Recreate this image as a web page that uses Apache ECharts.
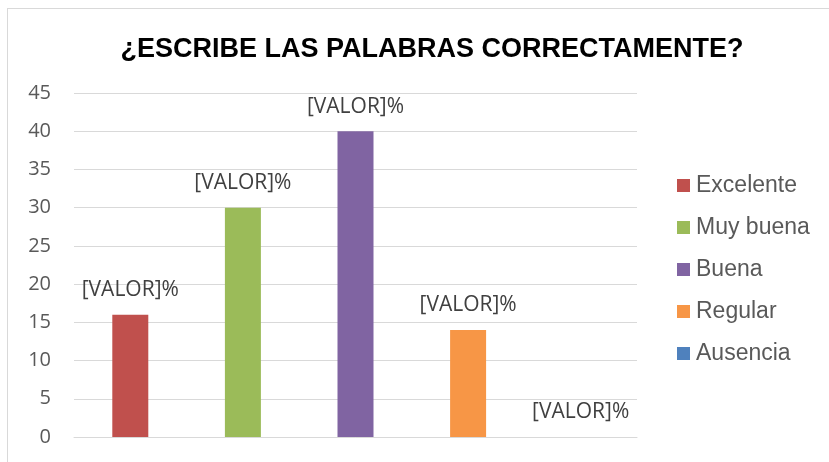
<!DOCTYPE html>
<html>
<head>
<meta charset="utf-8">
<script src="https://cdn.jsdelivr.net/npm/echarts@6/dist/echarts.min.js"></script>
<style>
  html, body { margin: 0; padding: 0; background: #fff; }
  #chart { width: 829px; height: 462px; }
  .frame { position: absolute; left: 7px; top: 8px; width: 840px; height: 470px; border: 1px solid #d9d9d9; box-sizing: border-box; pointer-events: none; }
</style>
</head>
<body>
<div id="chart"></div>
<div class="frame"></div>
<script>
// datos del grafico
var categorias = ['Excelente', 'Muy buena', 'Buena', 'Regular', 'Ausencia'];
var valores = [16, 30, 40, 14, 0];
var colores = ['#c0504d', '#9bbb59', '#8064a2', '#f79646', '#4f81bd'];
var etiquetaValor = '[VALOR]%';

var series = categorias.map(function (nombre, i) {
    // cada categoria es su propia serie, solo tiene dato en su posicion
    var data = categorias.map(function (c, j) { return j === i ? valores[i] : '-'; });
    return {
        name: nombre,
        type: 'bar',
        barWidth: 36,
        barGap: '-100%',
        itemStyle: { color: colores[i] },
        label: {
            show: true,
            position: 'top',
            distance: 14,
            formatter: etiquetaValor,
            fontFamily: 'Open Sans',
            fontSize: 21,
            color: '#404040'
        },
        data: data
    };
});

var myChart = echarts.init(document.getElementById('chart'));
myChart.setOption({
    animation: false,
    title: {
        text: '¿ESCRIBE LAS PALABRAS CORRECTAMENTE?',
        left: 427,
        textAlign: 'center',
        top: 31,
        textStyle: { fontFamily: 'Liberation Sans', fontWeight: 'bold', fontSize: 27, color: '#000' }
    },
    legend: {
        orient: 'vertical',
        left: 672,
        top: 169,
        itemWidth: 13,
        itemHeight: 13,
        itemGap: 19,
        icon: 'rect',
        textStyle: { fontFamily: 'Liberation Sans', fontSize: 23, color: '#595959', padding: [0, 0, 0, 1] },
        data: categorias
    },
    grid: { left: 74, right: 192, top: 93, bottom: 25 },
    xAxis: {
        type: 'category',
        data: categorias,
        axisTick: { show: false },
        axisLabel: { show: false },
        axisLine: { lineStyle: { color: '#d9d9d9', width: 1 } }
    },
    yAxis: {
        type: 'value',
        min: 0,
        max: 45,
        interval: 5,
        axisLine: { show: false },
        axisTick: { show: false },
        axisLabel: { fontFamily: 'Open Sans', fontSize: 20, color: '#595959', margin: 23 },
        splitLine: { lineStyle: { color: '#d9d9d9', width: 1 } }
    },
    series: series
});
</script>
</body>
</html>
